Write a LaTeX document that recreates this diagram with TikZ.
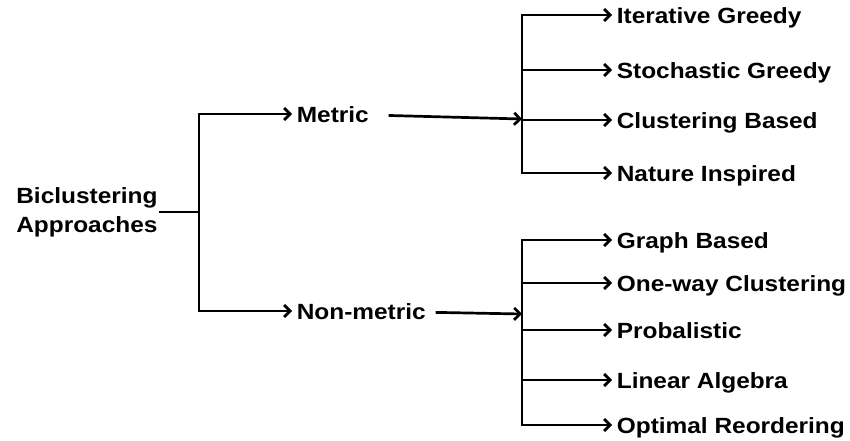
\documentclass[tikz,border=0pt]{standalone}
\usepackage{fontspec}
\setmainfont{Liberation Sans}[FakeStretch=1.11]
\usepackage{tikz}
\usetikzlibrary{arrows.meta}

\begin{document}
\begin{tikzpicture}[x=1pt,y=-1pt,line width=2.7pt,
 ->,>={Straight Barb[length=6pt,width=12pt]},
 root/.style={anchor=west,align=left,inner sep=0pt,
  font=\bfseries\fontsize{22}{29}\selectfont},
 leaf/.style={anchor=west,inner xsep=3.5pt,inner ysep=0pt,
  font=\bfseries\fontsize{22}{29}\selectfont,
  text height=17pt,text depth=0pt}]

 \useasboundingbox (0,0) rectangle (850,441);

 % Root of the tree, split into the two families
 \node[root] (Approaches) at (15,212) {Biclustering\\Approaches};
 \coordinate (Split) at (199,212);

 \node[leaf] (Metric) at (292,114) {Metric};
 \node[leaf] (NonMetric) at (292,311) {Non-metric};

 % Metric family
 \coordinate (MetricSplit) at (522,119);
 \node[leaf] (IterGreedy) at (612,15) {Iterative Greedy};
 \node[leaf] (StochGreedy) at (612,70) {Stochastic Greedy};
 \node[leaf] (ClustBased) at (612,120) {Clustering Based};
 \node[leaf] (NatInspired) at (612,173) {Nature Inspired};

 % Non-metric family
 \coordinate (NonMetricSplit) at (522,314);
 \node[leaf] (GraphBased) at (612,240) {Graph Based};
 \node[leaf] (OneWay) at (612,283) {One-way Clustering};
 \node[leaf] (Probalistic) at (612,330) {Probalistic};
 \node[leaf] (LinAlgebra) at (612,380) {Linear Algebra};
 \node[leaf] (OptReorder) at (612,425) {Optimal Reordering};

 % draw the connectors
 \draw[-] (Approaches) -- (Split);
 \draw (Split) |- (Metric);
 \draw (Split) |- (NonMetric);

 \draw[shorten <=15pt] (Metric) -- (MetricSplit);
 \draw (MetricSplit) |- (IterGreedy);
 \draw (MetricSplit) |- (StochGreedy);
 \draw (MetricSplit) |- (ClustBased);
 \draw (MetricSplit) |- (NatInspired);

 \draw[shorten <=5pt] (NonMetric) -- (NonMetricSplit);
 \draw (NonMetricSplit) |- (GraphBased);
 \draw (NonMetricSplit) |- (OneWay);
 \draw (NonMetricSplit) |- (Probalistic);
 \draw (NonMetricSplit) |- (LinAlgebra);
 \draw (NonMetricSplit) |- (OptReorder);

\end{tikzpicture}
\end{document}
